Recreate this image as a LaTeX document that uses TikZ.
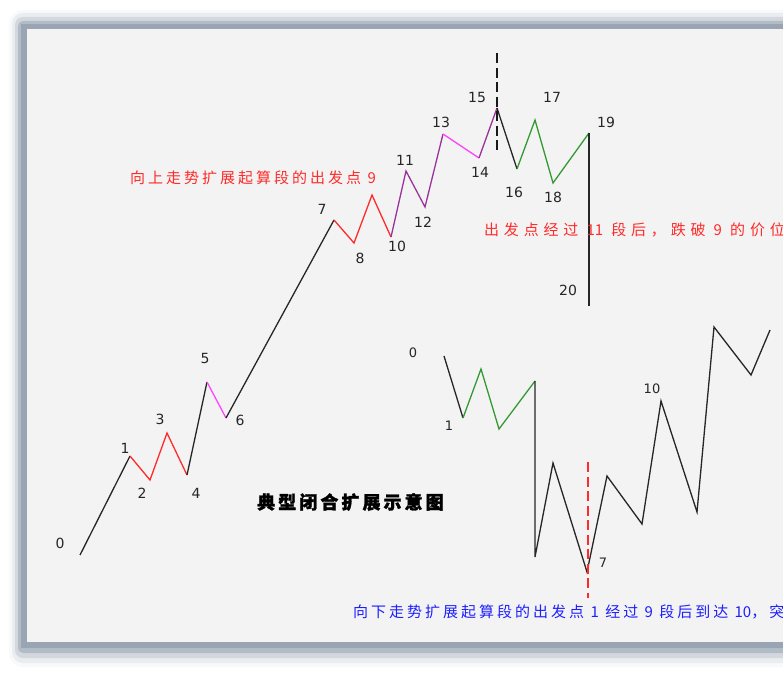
\documentclass[tikz,border=0pt]{standalone}
\usepackage{fontspec}
\setmainfont{DejaVu Sans}
\newfontfamily\cjka[LetterSpace=20]{Noto Sans CJK SC}
\newfontfamily\cjkb[LetterSpace=32]{Noto Sans CJK SC}
\newfontfamily\cjkt[LetterSpace=17,BoldFeatures={FakeBold=1.5}]{Noto Sans CJK SC}
\newcommand\dg[1]{{\addfontfeature{LetterSpace=0}#1}}
\definecolor{wred}{HTML}{FF2A2A}
\definecolor{wmag}{HTML}{FF44FF}
\definecolor{wpur}{HTML}{993399}
\definecolor{wgrn}{HTML}{339933}
\definecolor{wblue}{HTML}{1E1EFF}
\definecolor{panel}{HTML}{F3F3F3}
\definecolor{shad}{HTML}{8D9AAA}
\tikzset{
  seg/.style={line width=1.3pt, line join=miter},
  num/.style={font=\fontsize{14}{14}\selectfont, inner sep=0pt, text=black!85},
  numsm/.style={font=\fontsize{13}{13}\selectfont, inner sep=0pt, text=black!85},
  notea/.style={font=\cjka\fontsize{15}{15}\selectfont, inner sep=0pt, anchor=west},
  noteb/.style={font=\cjkb\fontsize{15}{15}\selectfont, inner sep=0pt, anchor=west},
  ttl/.style={font=\cjkt\bfseries\fontsize{18}{18}\selectfont, inner sep=0pt, anchor=west},
  dash1/.style={line width=2.8pt, dash pattern=on 10pt off 4.5pt},
}
\begin{document}
\begin{tikzpicture}[x=1pt,y=-1pt]
\useasboundingbox (0,0) rectangle (783,677);
\clip (0,0) rectangle (783,677);
\fill[white] (0,0) rectangle (783,677);
% frame / shadow
\fill[shad, opacity=0.06, rounded corners=14] (9,10) rectangle (820,667);
\fill[shad, opacity=0.12, rounded corners=11] (12,13) rectangle (820,663);
\fill[shad, opacity=0.25, rounded corners=8] (15,17) rectangle (820,658);
\fill[shad, opacity=0.45, rounded corners=5] (18,21) rectangle (820,653);
\fill[shad, opacity=0.65] (21,24) rectangle (820,648);
\fill[panel] (27,29) rectangle (820,642);

% upper chart coordinates
\coordinate (a0) at (80,555);
\coordinate (a1) at (130,456);
\coordinate (a2) at (150,480);
\coordinate (a3) at (167,433);
\coordinate (a4) at (187,475);
\coordinate (a5) at (207,382);
\coordinate (a6) at (226,418);
\coordinate (a7) at (334,220);
\coordinate (a8) at (354,243);
\coordinate (a9) at (372,195);
\coordinate (a10) at (391,237);
\coordinate (a11) at (406,171);
\coordinate (a12) at (425,207);
\coordinate (a13) at (443,134);
\coordinate (a14) at (479,158);
\coordinate (a15) at (497,108);
\coordinate (a16) at (517,169);
\coordinate (a17) at (535,120);
\coordinate (a18) at (553,183);
\coordinate (a19) at (589,133);
\coordinate (a20) at (589,306);
\coordinate (d1) at (497,53);
\coordinate (d2) at (497,153);

\draw[seg, black!85] (a0) -- (a1);
\draw[seg, wred] (a1) -- (a2) -- (a3) -- (a4);
\draw[seg, black!85] (a4) -- (a5);
\draw[seg, wmag] (a5) -- (a6);
\draw[seg, black!85] (a6) -- (a7);
\draw[seg, wred] (a7) -- (a8) -- (a9) -- (a10);
\draw[seg, wpur] (a10) -- (a11) -- (a12) -- (a13);
\draw[seg, wmag] (a13) -- (a14);
\draw[seg, wpur] (a14) -- (a15);
\draw[seg, black!85] (a15) -- (a16);
\draw[seg, wgrn] (a16) -- (a17) -- (a18) -- (a19);
\draw[seg, black!85] (a19) -- (a20);
\draw[dash1, black!90] (d1) -- (d2);

\node[num] (l0) at (60,543) {0};
\node[num] (l1) at (125,448) {1};
\node[num] (l2) at (142,493) {2};
\node[num] (l3) at (160,419) {3};
\node[num] (l4) at (196,493) {4};
\node[num] (l5) at (205,358) {5};
\node[num] (l6) at (240,420) {6};
\node[num] (l7) at (322,209) {7};
\node[num] (l8) at (360,258) {8};
\node[num] (l10) at (397,246) {10};
\node[num] (l11) at (405,160) {11};
\node[num] (l12) at (423,222) {12};
\node[num] (l13) at (441,122) {13};
\node[num] (l14) at (480,172) {14};
\node[num] (l15) at (477,97) {15};
\node[num] (l16) at (514,192) {16};
\node[num] (l17) at (552,97) {17};
\node[num] (l18) at (553,197) {18};
\node[num] (l19) at (606,122) {19};
\node[num] (l20) at (568,290) {20};

% lower chart
\coordinate (b0) at (444,356);
\coordinate (b1) at (463,418);
\coordinate (b2) at (481,369);
\coordinate (b3) at (499,429);
\coordinate (b4) at (535,381);
\coordinate (b5) at (535,557);
\coordinate (b6) at (553,463);
\coordinate (b7) at (587,572);
\coordinate (b8) at (607,476);
\coordinate (b9) at (642,524);
\coordinate (b10) at (661,401);
\coordinate (b11) at (697,512);
\coordinate (b12) at (714,327);
\coordinate (b13) at (751,375);
\coordinate (b14) at (770,330);
\coordinate (r1) at (588,462);
\coordinate (r2) at (588,598);

\draw[seg, black!85] (b0) -- (b1);
\draw[seg, wgrn] (b1) -- (b2) -- (b3) -- (b4);
\draw[seg, black!85] (b4) -- (b5) -- (b6) -- (b7) -- (b8) -- (b9) -- (b10) -- (b11) -- (b12) -- (b13) -- (b14);
\draw[dash1, wred] (r1) -- (r2);

\node[numsm] (m0) at (413,353) {0};
\node[numsm] (m1) at (449,426) {1};
\node[numsm] (m7) at (603,563) {7};
\node[numsm] (m10) at (652,389) {10};

% texts
\node[notea, text=wred] (t1) at (130,178) {向上走势扩展起算段的出发点 \dg{9}};
\node[noteb, text=wred] (t2) at (484,230) {出发点经过 \dg{11} 段后，跌破 \dg{9} 的价位};
\node[notea, text=wblue] (t3) at (353,612) {向下走势扩展起算段的出发点 \dg{1} 经过 \dg{9} 段后到达 \dg{10}，突破 \dg{1} 的价位};
\node[ttl] (tt) at (257,502) {典型闭合扩展示意图};
\end{tikzpicture}
\end{document}
